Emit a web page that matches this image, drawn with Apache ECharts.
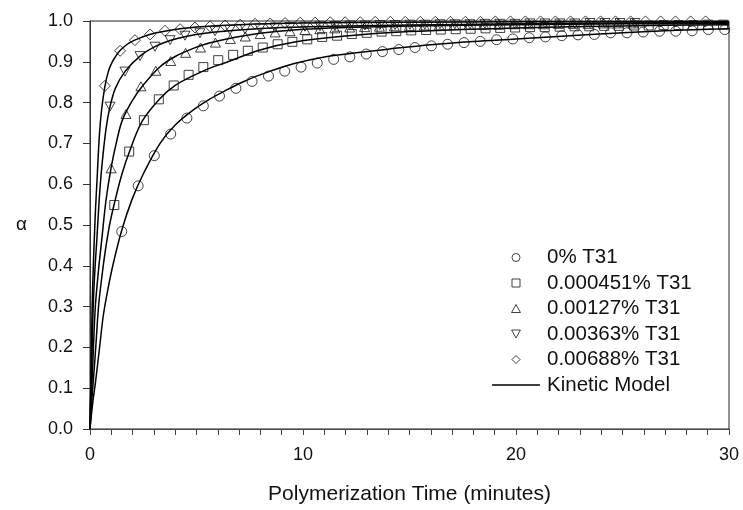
<!DOCTYPE html>
<html>
<head>
<meta charset="utf-8">
<script src="https://cdn.jsdelivr.net/npm/echarts@6/dist/echarts.min.js"></script>
<style>
html,body{margin:0;padding:0;background:#fff;}
#chart{width:743px;height:510px;}
</style>
</head>
<body>
<div id="chart"></div>
<script>
// ---------- data ----------
const seriesNames = ['0% T31', '0.000451% T31', '0.00127% T31', '0.00363% T31', '0.00688% T31'];
const modelName = 'Kinetic Model';

const tCircle = [1.49,2.26,3.02,3.79,4.55,5.32,6.08,6.85,7.61,8.38,9.14,9.91,10.67,11.44,12.20,12.97,13.73,14.50,15.26,16.03,16.79,17.56,18.32,19.09,19.85,20.62,21.38,22.15,22.91,23.68,24.44,25.21,25.97,26.74,27.50,28.27,29.03,29.80];
const aCircle = [0.484,0.596,0.670,0.723,0.762,0.792,0.816,0.835,0.852,0.865,0.877,0.887,0.897,0.906,0.912,0.919,0.925,0.930,0.935,0.939,0.943,0.947,0.950,0.954,0.956,0.959,0.961,0.964,0.966,0.967,0.971,0.971,0.973,0.975,0.975,0.976,0.979,0.979];

const tSquare = [1.14,1.84,2.53,3.23,3.93,4.63,5.32,6.02,6.72,7.41,8.11,8.81,9.50,10.20,10.90,11.60,12.29,12.99,13.69,14.38,15.08,15.78,16.47,17.17,17.87,18.57,19.26,19.96,20.66,21.35,22.05,22.75,23.44,24.14,24.84,25.54,26.23,26.93,27.63,28.32,29.02,29.72];
const aSquare = [0.549,0.680,0.757,0.808,0.842,0.868,0.887,0.904,0.917,0.927,0.935,0.943,0.949,0.955,0.961,0.964,0.968,0.971,0.974,0.975,0.977,0.978,0.979,0.980,0.981,0.982,0.983,0.984,0.985,0.985,0.986,0.987,0.987,0.988,0.988,0.989,0.989,0.990,0.990,0.990,0.991,0.991];

const tTriUp = [0.99,1.69,2.39,3.09,3.79,4.49,5.19,5.89,6.59,7.29,7.99,8.69,9.39,10.09,10.79,11.49,12.19,12.89,13.59,14.29,14.99,15.69,16.39,17.09,17.79,18.49,19.19,19.89,20.59,21.29,21.99,22.69,23.39,24.09,24.79,25.49];
const aTriUp = [0.639,0.772,0.840,0.878,0.902,0.922,0.935,0.947,0.956,0.962,0.968,0.972,0.975,0.978,0.980,0.982,0.984,0.985,0.986,0.987,0.988,0.989,0.989,0.990,0.990,0.991,0.991,0.992,0.992,0.992,0.993,0.993,0.993,0.994,0.994,0.994];

const tTriDown = [0.94,1.64,2.35,3.05,3.76,4.46,5.16,5.87,6.57,7.28,7.98,8.68,9.39,10.09,10.80,11.50,12.20,12.91,13.61,14.32,15.02,15.72,16.43,17.13,17.84,18.54,19.24,19.95,20.65,21.36,22.06,22.76,23.47,24.17,24.88,25.58];
const aTriDown = [0.790,0.876,0.914,0.937,0.953,0.964,0.970,0.975,0.978,0.980,0.982,0.984,0.985,0.986,0.987,0.988,0.989,0.989,0.990,0.990,0.991,0.991,0.992,0.992,0.992,0.993,0.993,0.993,0.994,0.994,0.994,0.994,0.995,0.995,0.995,0.995];

const tDiamond = [0.70,1.41,2.11,2.82,3.52,4.23,4.93,5.64,6.34,7.05,7.75,8.46,9.16,9.87,10.57,11.28,11.98,12.69,13.39,14.10,14.80,15.51,16.21,16.92,17.62,18.33,19.03,19.74,20.44,21.15,21.85,22.56,23.26,23.97,24.67,25.38,26.08,26.79,27.49,28.20,28.90];
const aDiamond = [0.841,0.927,0.953,0.967,0.976,0.980,0.984,0.987,0.989,0.991,0.993,0.994,0.995,0.996,0.996,0.997,0.997,0.997,0.998,0.998,0.998,0.998,0.998,0.998,0.998,0.998,0.999,0.999,0.999,0.999,0.999,0.999,0.999,0.999,0.999,0.999,0.999,0.999,0.999,0.999,0.999];

// kinetic model curves
const tModelCircle = [0,0.12,0.27,0.45,0.63,0.85,1.09,1.49,1.96,2.5,3.29,4.0,4.85,5.6,6.42,7.2,7.98,9.55,11,12.5,14,16,18,20,23.5,27,30];
const aModelCircle = [0,0.06,0.12,0.2,0.28,0.345,0.405,0.487,0.561,0.625,0.700,0.745,0.782,0.808,0.831,0.851,0.868,0.895,0.912,0.922,0.931,0.942,0.950,0.956,0.967,0.976,0.981];
const tModelSquare = [0,0.07,0.16,0.27,0.4,0.55,0.7,0.9,1.14,1.5,1.88,2.46,3.29,4.0,4.85,5.6,6.42,7.98,9.55,12,15,20,25,30];
const aModelSquare = [0,0.06,0.12,0.2,0.3,0.37,0.43,0.495,0.552,0.625,0.684,0.755,0.810,0.842,0.866,0.884,0.899,0.929,0.948,0.963,0.974,0.983,0.988,0.991];
const tModelTriUp = [0,0.04,0.1,0.17,0.25,0.4,0.55,0.75,0.99,1.25,1.52,2.0,2.5,3.29,4.0,4.85,5.6,6.42,7.98,9.55,12,15,20,25,30];
const aModelTriUp = [0,0.06,0.12,0.21,0.3,0.39,0.463,0.56,0.64,0.705,0.757,0.806,0.843,0.888,0.913,0.933,0.946,0.956,0.970,0.978,0.984,0.988,0.991,0.993,0.994];
const tModelTriDown = [0,0.025,0.06,0.1,0.15,0.23,0.32,0.43,0.55,0.75,0.94,1.2,1.64,2.35,3.05,3.76,4.5,5.4,7,9,12,15,20,25,30];
const aModelTriDown = [0,0.06,0.12,0.2,0.3,0.39,0.463,0.56,0.64,0.735,0.790,0.836,0.876,0.914,0.937,0.952,0.962,0.970,0.978,0.984,0.988,0.990,0.993,0.995,0.996];
const tModelDiamond = [0,0.015,0.04,0.07,0.1,0.15,0.2,0.26,0.32,0.44,0.55,0.7,0.85,1.0,1.2,1.4,1.75,2.1,2.8,3.5,5,7,10,15,20,30];
const aModelDiamond = [0,0.06,0.12,0.2,0.3,0.39,0.463,0.54,0.6,0.72,0.785,0.84,0.874,0.895,0.913,0.927,0.943,0.953,0.967,0.975,0.985,0.991,0.995,0.997,0.998,0.999];

const yTicks = ['0.0','0.1','0.2','0.3','0.4','0.5','0.6','0.7','0.8','0.9','1.0'];
// ---------- chart ----------
const FONT = '"Liberation Sans", Arial, sans-serif';
const zip = (t, a) => t.map((v, i) => [v, a[i]]);

const P_SQUARE = 'path://M0,0 L10,0 L10,10 L0,10 Z';
const P_TRI_UP = 'path://M5,0 L10,9 L0,9 Z';
const P_TRI_DOWN = 'path://M0,0 L10,0 L5,9 Z';
const P_DIAMOND = 'path://M5,0 L10,5 L5,10 L0,5 Z';
const P_LINE = 'path://M0,0 L48,0 L48,1.4 L0,1.4 Z';

const markerDefs = [
  {t: tCircle, a: aCircle, symbol: 'circle', size: 10},
  {t: tSquare, a: aSquare, symbol: P_SQUARE, size: 9},
  {t: tTriUp, a: aTriUp, symbol: P_TRI_UP, size: 10},
  {t: tTriDown, a: aTriDown, symbol: P_TRI_DOWN, size: 10},
  {t: tDiamond, a: aDiamond, symbol: P_DIAMOND, size: 11}
];
const models = [
  [tModelCircle, aModelCircle],
  [tModelSquare, aModelSquare],
  [tModelTriUp, aModelTriUp],
  [tModelTriDown, aModelTriDown],
  [tModelDiamond, aModelDiamond]
];

const series = [];
models.forEach(m => {
  series.push({
    name: modelName, type: 'line', data: zip(m[0], m[1]),
    symbol: 'none', smooth: 0.35, silent: true,
    lineStyle: {color: '#000', width: 1.5}, itemStyle: {color: '#000'},
    z: 3
  });
});
markerDefs.forEach((d, i) => {
  series.push({
    name: seriesNames[i], type: 'scatter', data: zip(d.t, d.a),
    symbol: d.symbol, symbolSize: d.size, symbolKeepAspect: true,
    itemStyle: {color: 'rgba(0,0,0,0)', borderColor: '#111', borderWidth: 1},
    z: 4
  });
});

const legendIcons = ['circle', P_SQUARE, P_TRI_UP, P_TRI_DOWN, P_DIAMOND];
const legendData = seriesNames.map((n, i) => ({name: n, icon: legendIcons[i],
  itemStyle: {color: 'rgba(0,0,0,0)', borderColor: '#111', borderWidth: 1}}));
legendData.push({name: modelName, icon: P_LINE, itemStyle: {color: '#000', borderWidth: 0}});

const chart = echarts.init(document.getElementById('chart'), null, {renderer: 'canvas'});
chart.setOption({
  animation: false,
  backgroundColor: '#fff',
  grid: {left: 90, right: 14, top: 21, bottom: 81, show: true, borderColor: '#222', borderWidth: 1, backgroundColor: 'transparent'},
  legend: {
    orient: 'vertical', left: 487, top: 242,
    itemWidth: 48, itemHeight: 8, itemGap: 4.5, symbolKeepAspect: true,
    data: legendData,
    textStyle: {fontFamily: FONT, fontSize: 20.5, color: '#111', lineHeight: 20, padding: [0, 0, 0, 2]},
    inactiveColor: '#111'
  },
  xAxis: {
    type: 'value', min: 0, max: 30, interval: 10,
    name: 'Polymerization Time (minutes)', nameLocation: 'middle', nameGap: 55,
    nameTextStyle: {fontFamily: FONT, fontSize: 21, color: '#111'},
    axisLine: {show: true, lineStyle: {color: '#444', width: 1}},
    axisTick: {show: true, inside: false, length: 6, lineStyle: {color: '#444'}},
    minorTick: {show: true, splitNumber: 10, length: 6, lineStyle: {color: '#444'}},
    splitLine: {show: false},
    axisLabel: {fontFamily: FONT, fontSize: 18, color: '#111', margin: 17}
  },
  yAxis: {
    type: 'value', min: 0, max: 1, interval: 0.1,
    name: 'α', nameLocation: 'middle', nameGap: 63, nameRotate: 0,
    nameTextStyle: {fontFamily: FONT, fontSize: 19, color: '#111'},
    axisLine: {show: true, lineStyle: {color: '#333', width: 1}},
    axisTick: {show: true, inside: false, length: 7, lineStyle: {color: '#333'}},
    splitLine: {show: false},
    axisLabel: {fontFamily: FONT, fontSize: 18, color: '#111', margin: 17,
      formatter: v => yTicks[Math.round(v * 10)]}
  },
  series: series
});
</script>
</body>
</html>
